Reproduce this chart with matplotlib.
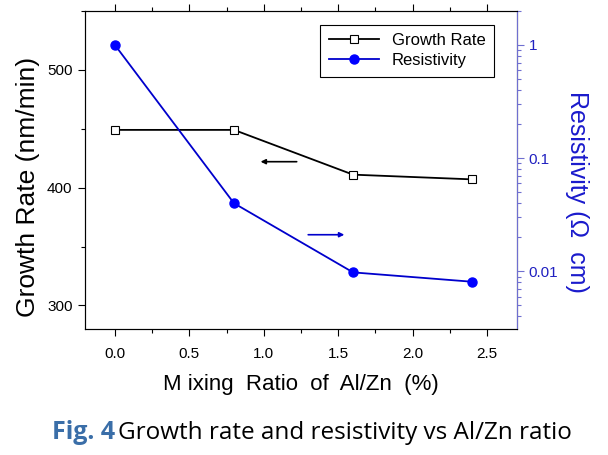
import matplotlib
matplotlib.use('Agg')
import matplotlib.pyplot as plt
from matplotlib.ticker import MultipleLocator, LogLocator, NullFormatter, FixedLocator

plt.rcParams['font.family'] = ['Liberation Sans', 'DejaVu Sans']

# data
mixing_ratio = [0.0, 0.8, 1.6, 2.4]
growth_rate = [449, 449, 411, 407]
resistivity = [1.0, 0.04, 0.0098, 0.0081]

fig = plt.figure(figsize=(6.08, 4.55), dpi=100)
ax = fig.add_axes([0.140, 0.277, 0.710, 0.699])
ax2 = ax.twinx()

ax.plot(mixing_ratio, growth_rate, color='black', linewidth=1.3,
        marker='s', markersize=6, markerfacecolor='white',
        markeredgecolor='black', markeredgewidth=0.8, label='Growth Rate')
ax2.plot(mixing_ratio, resistivity, color='#0000cc', linewidth=1.3,
         marker='o', markersize=6.5, markerfacecolor='#0000ff',
         markeredgecolor='#0000ff', label='Resistivity')

ax.set_xlim(-0.2, 2.7)
ax.set_ylim(280, 550)
ax2.set_yscale('log')
ax2.set_ylim(0.0031, 2.0)

ax.xaxis.set_minor_locator(MultipleLocator(0.25))
ax.yaxis.set_major_locator(MultipleLocator(100))
ax.yaxis.set_minor_locator(MultipleLocator(50))
ax.set_xticks([0.0, 0.5, 1.0, 1.5, 2.0, 2.5])
ax.set_xticklabels(['0.0', '0.5', '1.0', '1.5', '2.0', '2.5'])

ax2.yaxis.set_major_locator(FixedLocator([0.01, 0.1, 1]))
ax2.set_yticklabels(['0.01', '0.1', '1'])
ax2.yaxis.set_minor_locator(LogLocator(base=10, subs=range(2, 10)))
ax2.yaxis.set_minor_formatter(NullFormatter())

ax.tick_params(axis='both', which='major', direction='out', length=5,
               labelsize=11, top=True, width=0.8)
ax.tick_params(axis='both', which='minor', direction='out', length=3,
               top=True, width=0.8)
ax.tick_params(axis='x', pad=8)
ax.tick_params(axis='y', pad=4)

blue_axis = '#6f6fd0'
ax2.spines['right'].set_color(blue_axis)
ax2.tick_params(axis='y', which='major', direction='out', length=5,
                labelsize=11, colors=blue_axis, labelcolor='#2020c0', width=0.8)
ax2.tick_params(axis='y', which='minor', direction='out', length=3,
                colors=blue_axis, width=0.8)
for sp in ['left', 'top', 'bottom']:
    ax.spines[sp].set_color('#333333')

ax.set_xlabel('M ixing  Ratio  of  Al/Zn  (%)', fontsize=16, labelpad=9)
ax.set_ylabel('Growth Rate (nm/min)', fontsize=19, labelpad=5)
ax.yaxis.label.set_y(0.445)
ax2.set_ylabel('Resistivity (\u03a9  cm)', fontsize=18, color='#1a1acc',
               rotation=270, labelpad=22)
ax2.yaxis.label.set_y(0.43)

# direction arrows
ax.annotate('', xy=(0.96, 422), xytext=(1.24, 422),
            arrowprops=dict(arrowstyle='-|>', color='black', lw=1.2,
                            mutation_scale=7))
ax.annotate('', xy=(1.56, 360), xytext=(1.28, 360),
            arrowprops=dict(arrowstyle='-|>', color='#0000cc', lw=1.2,
                            mutation_scale=7))

h1, l1 = ax.get_legend_handles_labels()
h2, l2 = ax2.get_legend_handles_labels()
leg = ax2.legend(h1 + h2, l1 + l2, loc='upper right',
                 bbox_to_anchor=(0.947, 0.956), borderaxespad=0,
                 fontsize=12, fancybox=False,
                 edgecolor='black', framealpha=1, handlelength=3.0,
                 borderpad=0.5, labelspacing=0.3)
leg.get_frame().set_linewidth(0.8)

# caption
renderer = fig.canvas.get_renderer()
t1 = fig.text(0.085, 0.035, 'Fig. 4', fontsize=18, fontweight='bold',
              color='#3a6ea8', family=['Open Sans', 'DejaVu Sans'])
bb = t1.get_window_extent(renderer=renderer)
x2 = (bb.x1 + 3) / fig.bbox.width
fig.text(x2, 0.035, 'Growth rate and resistivity vs Al/Zn ratio',
         fontsize=17.5, color='black', family=['Open Sans', 'DejaVu Sans'])

fig.savefig('out.png', dpi=100)
